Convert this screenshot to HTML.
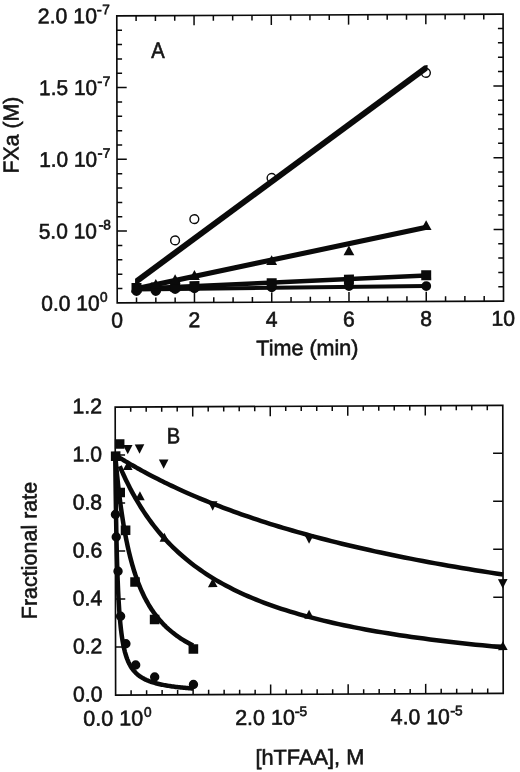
<!DOCTYPE html>
<html><head><meta charset="utf-8"><title>Figure</title>
<style>
html,body{margin:0;padding:0;background:#fff;}
body{width:520px;height:772px;overflow:hidden;font-family:"Liberation Sans",sans-serif;}
svg{display:block;filter:blur(0.55px);}
svg text{font-family:"Liberation Sans",sans-serif;fill:#141414;stroke:#141414;stroke-width:0.6px;}
</style></head>
<body>
<svg width="520" height="772" viewBox="0 0 520 772">
<rect width="520" height="772" fill="#fff"/>
<g transform="matrix(1 -0.0045 0.0015 1 -0.238 1.396)">
<rect x="117.0" y="15.0" width="386.3" height="287.0" fill="none" stroke="#0a0a0a" stroke-width="1.65"/>
<path d="M136.31 302.0v-5.2M136.31 15.0v5.2M155.63 302.0v-5.2M155.63 15.0v5.2M174.94 302.0v-5.2M174.94 15.0v5.2M194.26 302.0v-9.8M194.26 15.0v9.8M213.57 302.0v-5.2M213.57 15.0v5.2M232.89 302.0v-5.2M232.89 15.0v5.2M252.20 302.0v-5.2M252.20 15.0v5.2M271.52 302.0v-9.8M271.52 15.0v9.8M290.84 302.0v-5.2M290.84 15.0v5.2M310.15 302.0v-5.2M310.15 15.0v5.2M329.47 302.0v-5.2M329.47 15.0v5.2M348.78 302.0v-9.8M348.78 15.0v9.8M368.10 302.0v-5.2M368.10 15.0v5.2M387.41 302.0v-5.2M387.41 15.0v5.2M406.73 302.0v-5.2M406.73 15.0v5.2M426.04 302.0v-9.8M426.04 15.0v9.8M445.36 302.0v-5.2M445.36 15.0v5.2M464.67 302.0v-5.2M464.67 15.0v5.2M483.99 302.0v-5.2M483.99 15.0v5.2M117.0 287.65h5.2M503.3 287.65h-5.2M117.0 273.30h5.2M503.3 273.30h-5.2M117.0 258.95h5.2M503.3 258.95h-5.2M117.0 244.60h5.2M503.3 244.60h-5.2M117.0 230.25h9.8M503.3 230.25h-9.8M117.0 215.90h5.2M503.3 215.90h-5.2M117.0 201.55h5.2M503.3 201.55h-5.2M117.0 187.20h5.2M503.3 187.20h-5.2M117.0 172.85h5.2M503.3 172.85h-5.2M117.0 158.50h9.8M503.3 158.50h-9.8M117.0 144.15h5.2M503.3 144.15h-5.2M117.0 129.80h5.2M503.3 129.80h-5.2M117.0 115.45h5.2M503.3 115.45h-5.2M117.0 101.10h5.2M503.3 101.10h-5.2M117.0 86.75h9.8M503.3 86.75h-9.8M117.0 72.40h5.2M503.3 72.40h-5.2M117.0 58.05h5.2M503.3 58.05h-5.2M117.0 43.70h5.2M503.3 43.70h-5.2M117.0 29.35h5.2M503.3 29.35h-5.2" stroke="#0a0a0a" stroke-width="1.5" fill="none"/>
<text x="38.00" y="22.20" font-size="21.5" textLength="59.20" lengthAdjust="spacingAndGlyphs">2.0 10</text>
<text x="96.90" y="13.40" font-size="13.7" textLength="5.11" lengthAdjust="spacingAndGlyphs">-</text>
<text x="110.20" y="13.40" font-size="13.7" text-anchor="end">7</text>
<text x="39.20" y="93.95" font-size="21.5" textLength="58.00" lengthAdjust="spacingAndGlyphs">1.5 10</text>
<text x="97.40" y="85.15" font-size="13.7" textLength="5.11" lengthAdjust="spacingAndGlyphs">-</text>
<text x="110.40" y="85.15" font-size="13.7" text-anchor="end">7</text>
<text x="39.20" y="165.70" font-size="21.5" textLength="58.00" lengthAdjust="spacingAndGlyphs">1.0 10</text>
<text x="97.40" y="156.90" font-size="13.7" textLength="5.11" lengthAdjust="spacingAndGlyphs">-</text>
<text x="110.40" y="156.90" font-size="13.7" text-anchor="end">7</text>
<text x="38.60" y="237.45" font-size="21.5" textLength="58.30" lengthAdjust="spacingAndGlyphs">5.0 10</text>
<text x="98.30" y="228.65" font-size="13.7" textLength="5.11" lengthAdjust="spacingAndGlyphs">-</text>
<text x="110.80" y="228.65" font-size="13.7" text-anchor="end">8</text>
<text x="41.00" y="309.50" font-size="21.5" textLength="58.40" lengthAdjust="spacingAndGlyphs">0.0 10</text>
<text x="99.80" y="300.70" font-size="13.7">0</text>
<text x="110.91" y="326.60" font-size="21.5" textLength="11.77" lengthAdjust="spacingAndGlyphs">0</text>
<text x="188.17" y="326.60" font-size="21.5" textLength="11.77" lengthAdjust="spacingAndGlyphs">2</text>
<text x="265.43" y="326.60" font-size="21.5" textLength="11.77" lengthAdjust="spacingAndGlyphs">4</text>
<text x="342.69" y="326.60" font-size="21.5" textLength="11.77" lengthAdjust="spacingAndGlyphs">6</text>
<text x="419.95" y="326.60" font-size="21.5" textLength="11.77" lengthAdjust="spacingAndGlyphs">8</text>
<text x="491.33" y="326.60" font-size="21.5" textLength="23.55" lengthAdjust="spacingAndGlyphs">10</text>
<text x="256.0" y="355.2" font-size="21.5" textLength="102.2" lengthAdjust="spacingAndGlyphs">Time (min)</text>
<text transform="translate(18.6 172.2) rotate(-90)" font-size="21.5" textLength="76.8" lengthAdjust="spacingAndGlyphs">FXa (M)</text>
<text x="151.30" y="57.40" font-size="22.3" textLength="13.46" lengthAdjust="spacingAndGlyphs">A</text>
<circle cx="174.94" cy="239.80" r="4.4" fill="#fff" stroke="#0a0a0a" stroke-width="1.4"/>
<circle cx="194.26" cy="218.60" r="4.4" fill="#fff" stroke="#0a0a0a" stroke-width="1.4"/>
<circle cx="271.52" cy="177.80" r="4.4" fill="#fff" stroke="#0a0a0a" stroke-width="1.4"/>
<circle cx="426.04" cy="73.40" r="4.4" fill="#fff" stroke="#0a0a0a" stroke-width="1.4"/>
<path d="M134.90 277.84L424.30 66.04L427.70 65.64L427.70 70.86L427.30 71.16L134.90 285.16Z" fill="#0a0a0a"/>
<path d="M136.30 285.30L425.80 225.30L425.80 230.50L136.30 290.50Z" fill="#0a0a0a"/>
<path d="M136.30 285.75L425.80 273.75L425.80 278.25L136.30 290.25Z" fill="#0a0a0a"/>
<path d="M136.30 286.60L425.80 284.50L425.80 288.50L136.30 290.60Z" fill="#0a0a0a"/>
<circle cx="136.31" cy="290.30" r="4.9" fill="#0a0a0a"/>
<circle cx="155.63" cy="290.30" r="4.9" fill="#0a0a0a"/>
<circle cx="174.94" cy="288.40" r="4.9" fill="#0a0a0a"/>
<circle cx="194.26" cy="287.80" r="4.9" fill="#0a0a0a"/>
<circle cx="271.52" cy="287.20" r="4.9" fill="#0a0a0a"/>
<circle cx="348.78" cy="286.30" r="4.9" fill="#0a0a0a"/>
<circle cx="426.04" cy="286.60" r="4.9" fill="#0a0a0a"/>
<rect x="131.31" y="282.30" width="10.0" height="10.0" fill="#0a0a0a"/>
<rect x="150.63" y="281.80" width="10.0" height="10.0" fill="#0a0a0a"/>
<rect x="169.94" y="281.00" width="10.0" height="10.0" fill="#0a0a0a"/>
<rect x="189.26" y="280.60" width="10.0" height="10.0" fill="#0a0a0a"/>
<rect x="266.52" y="278.00" width="10.0" height="10.0" fill="#0a0a0a"/>
<rect x="343.78" y="274.80" width="10.0" height="10.0" fill="#0a0a0a"/>
<rect x="421.04" y="270.70" width="10.0" height="10.0" fill="#0a0a0a"/>
<path d="M136.31 281.20L141.72 291.00L130.91 291.00Z" fill="#0a0a0a"/>
<path d="M155.63 278.30L161.03 288.10L150.23 288.10Z" fill="#0a0a0a"/>
<path d="M174.94 273.70L180.34 283.50L169.54 283.50Z" fill="#0a0a0a"/>
<path d="M194.26 269.60L199.66 279.40L188.86 279.40Z" fill="#0a0a0a"/>
<path d="M271.52 255.10L276.92 264.90L266.12 264.90Z" fill="#0a0a0a"/>
<path d="M348.78 245.70L354.18 255.50L343.38 255.50Z" fill="#0a0a0a"/>
<path d="M426.04 220.70L431.44 230.50L420.64 230.50Z" fill="#0a0a0a"/>
</g>
<g transform="matrix(1 -0.0045 0.0015 1 -0.825 1.391)">
<rect x="115.4" y="406.2" width="387.6" height="288.00000000000006" fill="none" stroke="#0a0a0a" stroke-width="1.65"/>
<path d="M130.90 694.2v-4.8M130.90 406.2v4.8M146.41 694.2v-4.8M146.41 406.2v4.8M161.91 694.2v-4.8M161.91 406.2v4.8M177.42 694.2v-4.8M177.42 406.2v4.8M192.92 694.2v-9.8M192.92 406.2v9.8M208.42 694.2v-4.8M208.42 406.2v4.8M223.93 694.2v-4.8M223.93 406.2v4.8M239.43 694.2v-4.8M239.43 406.2v4.8M254.94 694.2v-4.8M254.94 406.2v4.8M270.44 694.2v-9.8M270.44 406.2v9.8M285.94 694.2v-4.8M285.94 406.2v4.8M301.45 694.2v-4.8M301.45 406.2v4.8M316.95 694.2v-4.8M316.95 406.2v4.8M332.46 694.2v-4.8M332.46 406.2v4.8M347.96 694.2v-9.8M347.96 406.2v9.8M363.46 694.2v-4.8M363.46 406.2v4.8M378.97 694.2v-4.8M378.97 406.2v4.8M394.47 694.2v-4.8M394.47 406.2v4.8M409.98 694.2v-4.8M409.98 406.2v4.8M425.48 694.2v-9.8M425.48 406.2v9.8M440.98 694.2v-4.8M440.98 406.2v4.8M456.49 694.2v-4.8M456.49 406.2v4.8M471.99 694.2v-4.8M471.99 406.2v4.8M487.50 694.2v-4.8M487.50 406.2v4.8M115.4 646.20h9.8M503.0 646.20h-9.8M115.4 598.20h9.8M503.0 598.20h-9.8M115.4 550.20h9.8M503.0 550.20h-9.8M115.4 502.20h9.8M503.0 502.20h-9.8M115.4 454.20h9.8M503.0 454.20h-9.8" stroke="#0a0a0a" stroke-width="1.5" fill="none"/>
<text x="72.76" y="700.50" font-size="21.5" textLength="29.44" lengthAdjust="spacingAndGlyphs">0.0</text>
<text x="72.76" y="652.50" font-size="21.5" textLength="29.44" lengthAdjust="spacingAndGlyphs">0.2</text>
<text x="72.76" y="604.50" font-size="21.5" textLength="29.44" lengthAdjust="spacingAndGlyphs">0.4</text>
<text x="72.76" y="556.50" font-size="21.5" textLength="29.44" lengthAdjust="spacingAndGlyphs">0.6</text>
<text x="72.76" y="508.50" font-size="21.5" textLength="29.44" lengthAdjust="spacingAndGlyphs">0.8</text>
<text x="72.76" y="460.50" font-size="21.5" textLength="29.44" lengthAdjust="spacingAndGlyphs">1.0</text>
<text x="72.76" y="412.50" font-size="21.5" textLength="29.44" lengthAdjust="spacingAndGlyphs">1.2</text>
<text x="83.10" y="724.70" font-size="21.5" textLength="59.80" lengthAdjust="spacingAndGlyphs">0.0 10</text>
<text x="143.80" y="715.90" font-size="13.7">0</text>
<text x="234.90" y="724.70" font-size="21.5" textLength="59.70" lengthAdjust="spacingAndGlyphs">2.0 10</text>
<text x="294.60" y="715.90" font-size="13.7" textLength="5.11" lengthAdjust="spacingAndGlyphs">-</text>
<text x="307.00" y="715.90" font-size="13.7" text-anchor="end">5</text>
<text x="390.60" y="724.70" font-size="21.5" textLength="59.00" lengthAdjust="spacingAndGlyphs">4.0 10</text>
<text x="450.00" y="715.90" font-size="13.7" textLength="5.11" lengthAdjust="spacingAndGlyphs">-</text>
<text x="462.50" y="715.90" font-size="13.7" text-anchor="end">5</text>
<text x="255.1" y="764.5" font-size="21.5" textLength="108.9" lengthAdjust="spacingAndGlyphs">[hTFAA], M</text>
<text transform="translate(36.6 618.0) rotate(-90)" font-size="21.5" textLength="137.5" lengthAdjust="spacingAndGlyphs">Fractional rate</text>
<text x="166.90" y="442.90" font-size="22.3" textLength="13.46" lengthAdjust="spacingAndGlyphs">B</text>
<path d="M115.40 454.20 L115.41 454.21 L115.45 454.23 L115.52 454.27 L115.62 454.34 L115.76 454.42 L115.93 454.54 L116.15 454.67 L116.40 454.83 L116.70 455.02 L117.04 455.23 L117.42 455.47 L117.85 455.74 L118.32 456.03 L118.83 456.35 L119.40 456.70 L120.01 457.07 L120.66 457.48 L121.37 457.91 L122.12 458.37 L122.92 458.86 L123.78 459.38 L124.68 459.92 L125.63 460.50 L126.64 461.10 L127.69 461.72 L128.80 462.38 L129.96 463.06 L131.17 463.77 L132.44 464.50 L133.76 465.27 L135.13 466.05 L136.56 466.86 L138.04 467.70 L139.58 468.56 L141.17 469.45 L142.82 470.36 L144.52 471.29 L146.28 472.25 L148.10 473.22 L149.97 474.22 L151.90 475.24 L153.89 476.28 L155.93 477.34 L158.04 478.42 L160.20 479.52 L162.42 480.63 L164.69 481.77 L167.03 482.92 L169.43 484.09 L171.88 485.27 L174.40 486.47 L176.97 487.68 L179.61 488.90 L182.30 490.14 L185.06 491.39 L187.88 492.66 L190.75 493.93 L193.69 495.21 L196.69 496.51 L199.76 497.81 L202.88 499.13 L206.07 500.45 L209.31 501.78 L212.63 503.11 L216.00 504.45 L219.44 505.80 L222.93 507.15 L226.50 508.51 L230.12 509.87 L233.81 511.24 L237.57 512.60 L241.38 513.98 L245.27 515.35 L249.21 516.72 L253.22 518.10 L257.30 519.47 L261.44 520.85 L265.64 522.22 L269.91 523.60 L274.25 524.97 L278.65 526.34 L283.12 527.71 L287.65 529.08 L292.25 530.44 L296.91 531.80 L301.64 533.16 L306.44 534.51 L311.31 535.86 L316.24 537.21 L321.23 538.55 L326.30 539.88 L331.43 541.21 L336.63 542.53 L341.90 543.85 L347.23 545.16 L352.64 546.47 L358.11 547.77 L363.65 549.06 L369.25 550.34 L374.93 551.62 L380.67 552.89 L386.48 554.15 L392.37 555.40 L398.32 556.65 L404.34 557.89 L410.42 559.12 L416.58 560.34 L422.81 561.55 L429.11 562.76 L435.47 563.95 L441.91 565.14 L448.42 566.32 L454.99 567.49 L461.64 568.65 L468.36 569.80 L475.14 570.94 L482.00 572.07 L488.93 573.19 L495.93 574.31 L503.00 575.41" fill="none" stroke="#0a0a0a" stroke-width="4.5" stroke-linejoin="round"/>
<path d="M119.90 465.40 L119.91 465.42 L119.94 465.51 L120.01 465.67 L120.11 465.91 L120.25 466.23 L120.42 466.64 L120.63 467.14 L120.89 467.73 L121.18 468.41 L121.51 469.18 L121.89 470.04 L122.31 471.00 L122.78 472.04 L123.29 473.18 L123.85 474.41 L124.45 475.72 L125.10 477.12 L125.79 478.60 L126.54 480.16 L127.33 481.79 L128.18 483.50 L129.07 485.28 L130.01 487.13 L131.00 489.05 L132.05 491.02 L133.14 493.05 L134.29 495.13 L135.49 497.26 L136.74 499.44 L138.04 501.66 L139.40 503.91 L140.81 506.20 L142.28 508.52 L143.79 510.87 L145.37 513.24 L147.00 515.62 L148.68 518.03 L150.42 520.44 L152.22 522.87 L154.07 525.30 L155.97 527.73 L157.94 530.16 L159.96 532.59 L162.04 535.02 L164.17 537.43 L166.37 539.84 L168.62 542.24 L170.93 544.62 L173.30 546.98 L175.72 549.33 L178.21 551.66 L180.76 553.97 L183.36 556.25 L186.02 558.52 L188.75 560.75 L191.53 562.96 L194.38 565.15 L197.28 567.31 L200.25 569.44 L203.27 571.54 L206.36 573.61 L209.51 575.65 L212.72 577.66 L215.99 579.65 L219.33 581.60 L222.72 583.52 L226.18 585.41 L229.71 587.26 L233.29 589.09 L236.94 590.89 L240.65 592.65 L244.42 594.39 L248.26 596.09 L252.16 597.76 L256.12 599.41 L260.15 601.02 L264.24 602.61 L268.40 604.16 L272.62 605.69 L276.90 607.18 L281.25 608.65 L285.67 610.09 L290.15 611.51 L294.69 612.89 L299.30 614.25 L303.98 615.59 L308.72 616.89 L313.53 618.17 L318.40 619.43 L323.34 620.66 L328.35 621.87 L333.42 623.05 L338.56 624.22 L343.77 625.35 L349.04 626.47 L354.38 627.56 L359.79 628.63 L365.26 629.68 L370.80 630.71 L376.41 631.72 L382.09 632.71 L387.84 633.68 L393.65 634.63 L399.53 635.56 L405.48 636.48 L411.50 637.37 L417.58 638.25 L423.74 639.11 L429.96 639.95 L436.26 640.78 L442.62 641.59 L449.05 642.39 L455.55 643.17 L462.12 643.93 L468.76 644.68 L475.47 645.42 L482.24 646.14 L489.09 646.84 L496.01 647.54 L503.00 648.22" fill="none" stroke="#0a0a0a" stroke-width="4.5" stroke-linejoin="round"/>
<path d="M115.40 454.20 L115.40 454.22 L115.41 454.31 L115.42 454.48 L115.44 454.72 L115.47 455.05 L115.51 455.47 L115.55 455.98 L115.60 456.58 L115.66 457.28 L115.73 458.07 L115.80 458.95 L115.89 459.93 L115.98 461.00 L116.09 462.17 L116.20 463.42 L116.32 464.77 L116.45 466.20 L116.59 467.72 L116.74 469.31 L116.90 470.99 L117.08 472.75 L117.26 474.58 L117.45 476.48 L117.65 478.44 L117.86 480.47 L118.08 482.56 L118.31 484.70 L118.55 486.90 L118.81 489.14 L119.07 491.43 L119.35 493.75 L119.63 496.11 L119.93 498.51 L120.24 500.93 L120.55 503.38 L120.88 505.84 L121.22 508.33 L121.58 510.83 L121.94 513.34 L122.31 515.86 L122.70 518.38 L123.10 520.90 L123.51 523.42 L123.93 525.94 L124.36 528.45 L124.80 530.95 L125.26 533.44 L125.73 535.92 L126.21 538.38 L126.70 540.83 L127.20 543.25 L127.71 545.66 L128.24 548.04 L128.78 550.40 L129.33 552.74 L129.90 555.05 L130.47 557.33 L131.06 559.59 L131.66 561.82 L132.27 564.02 L132.90 566.19 L133.53 568.33 L134.18 570.43 L134.85 572.51 L135.52 574.56 L136.21 576.57 L136.91 578.56 L137.62 580.51 L138.34 582.43 L139.08 584.32 L139.83 586.17 L140.60 588.00 L141.37 589.79 L142.16 591.55 L142.96 593.28 L143.78 594.98 L144.61 596.65 L145.45 598.29 L146.30 599.90 L147.17 601.48 L148.05 603.03 L148.94 604.55 L149.85 606.05 L150.77 607.51 L151.70 608.95 L152.65 610.36 L153.61 611.74 L154.58 613.09 L155.57 614.42 L156.57 615.73 L157.58 617.00 L158.61 618.26 L159.65 619.49 L160.70 620.69 L161.77 621.87 L162.85 623.03 L163.94 624.17 L165.05 625.28 L166.17 626.38 L167.31 627.45 L168.45 628.50 L169.62 629.52 L170.79 630.53 L171.98 631.52 L173.19 632.49 L174.40 633.44 L175.64 634.38 L176.88 635.29 L178.14 636.19 L179.41 637.07 L180.70 637.93 L182.00 638.77 L183.32 639.60 L184.65 640.42 L185.99 641.21 L187.35 642.00 L188.72 642.76 L190.11 643.52 L191.51 644.26 L192.92 644.98" fill="none" stroke="#0a0a0a" stroke-width="4.5" stroke-linejoin="round"/>
<path d="M115.40 454.20 L115.40 454.44 L115.41 455.31 L115.42 456.88 L115.44 459.20 L115.47 462.26 L115.51 466.05 L115.55 470.51 L115.60 475.58 L115.66 481.19 L115.73 487.26 L115.80 493.70 L115.89 500.43 L115.98 507.36 L116.09 514.41 L116.20 521.52 L116.32 528.60 L116.45 535.62 L116.59 542.51 L116.74 549.25 L116.90 555.80 L117.08 562.13 L117.26 568.24 L117.45 574.10 L117.65 579.71 L117.86 585.07 L118.08 590.19 L118.31 595.05 L118.55 599.67 L118.81 604.06 L119.07 608.21 L119.35 612.15 L119.63 615.88 L119.93 619.41 L120.24 622.75 L120.55 625.91 L120.88 628.89 L121.22 631.72 L121.58 634.39 L121.94 636.92 L122.31 639.32 L122.70 641.58 L123.10 643.73 L123.51 645.76 L123.93 647.69 L124.36 649.51 L124.80 651.24 L125.26 652.89 L125.73 654.45 L126.21 655.93 L126.70 657.34 L127.20 658.68 L127.71 659.95 L128.24 661.16 L128.78 662.32 L129.33 663.42 L129.90 664.46 L130.47 665.46 L131.06 666.42 L131.66 667.33 L132.27 668.20 L132.90 669.03 L133.53 669.82 L134.18 670.58 L134.85 671.31 L135.52 672.01 L136.21 672.67 L136.91 673.31 L137.62 673.93 L138.34 674.52 L139.08 675.08 L139.83 675.62 L140.60 676.14 L141.37 676.64 L142.16 677.12 L142.96 677.59 L143.78 678.03 L144.61 678.46 L145.45 678.87 L146.30 679.27 L147.17 679.65 L148.05 680.02 L148.94 680.38 L149.85 680.72 L150.77 681.05 L151.70 681.37 L152.65 681.68 L153.61 681.98 L154.58 682.27 L155.57 682.55 L156.57 682.82 L157.58 683.08 L158.61 683.33 L159.65 683.57 L160.70 683.81 L161.77 684.04 L162.85 684.26 L163.94 684.48 L165.05 684.68 L166.17 684.89 L167.31 685.08 L168.45 685.27 L169.62 685.46 L170.79 685.64 L171.98 685.81 L173.19 685.98 L174.40 686.14 L175.64 686.30 L176.88 686.46 L178.14 686.61 L179.41 686.75 L180.70 686.90 L182.00 687.03 L183.32 687.17 L184.65 687.30 L185.99 687.43 L187.35 687.55 L188.72 687.67 L190.11 687.79 L191.51 687.90 L192.92 688.02" fill="none" stroke="#0a0a0a" stroke-width="4.5" stroke-linejoin="round"/>
<circle cx="115.50" cy="513.60" r="4.7" fill="#0a0a0a"/>
<circle cx="116.25" cy="536.10" r="4.7" fill="#0a0a0a"/>
<circle cx="118.00" cy="570.40" r="4.7" fill="#0a0a0a"/>
<circle cx="120.50" cy="615.40" r="4.7" fill="#0a0a0a"/>
<circle cx="125.75" cy="642.90" r="4.7" fill="#0a0a0a"/>
<circle cx="135.50" cy="664.20" r="4.7" fill="#0a0a0a"/>
<circle cx="154.50" cy="676.30" r="4.7" fill="#0a0a0a"/>
<circle cx="193.25" cy="684.00" r="4.7" fill="#0a0a0a"/>
<rect x="111.00" y="450.50" width="9.6" height="9.6" fill="#0a0a0a"/>
<rect x="115.00" y="438.40" width="9.6" height="9.6" fill="#0a0a0a"/>
<rect x="115.50" y="486.80" width="9.6" height="9.6" fill="#0a0a0a"/>
<rect x="120.80" y="524.70" width="9.6" height="9.6" fill="#0a0a0a"/>
<rect x="130.20" y="576.40" width="9.6" height="9.6" fill="#0a0a0a"/>
<rect x="149.70" y="614.00" width="9.6" height="9.6" fill="#0a0a0a"/>
<rect x="188.45" y="643.70" width="9.6" height="9.6" fill="#0a0a0a"/>
<path d="M127.90 453.50L132.70 444.10L123.10 444.10Z" fill="#0a0a0a"/>
<path d="M139.70 453.00L144.50 443.60L134.90 443.60Z" fill="#0a0a0a"/>
<path d="M163.80 468.20L168.60 458.80L159.00 458.80Z" fill="#0a0a0a"/>
<path d="M212.75 510.20L217.55 500.80L207.95 500.80Z" fill="#0a0a0a"/>
<path d="M309.10 543.80L313.90 534.40L304.30 534.40Z" fill="#0a0a0a"/>
<path d="M502.70 589.40L507.50 580.00L497.90 580.00Z" fill="#0a0a0a"/>
<path d="M127.90 460.10L132.70 469.10L123.10 469.10Z" fill="#0a0a0a"/>
<path d="M140.00 490.40L144.80 499.40L135.20 499.40Z" fill="#0a0a0a"/>
<path d="M164.40 532.00L169.20 541.00L159.60 541.00Z" fill="#0a0a0a"/>
<path d="M212.70 577.70L217.50 586.70L207.90 586.70Z" fill="#0a0a0a"/>
<path d="M309.00 609.80L313.80 618.80L304.20 618.80Z" fill="#0a0a0a"/>
<path d="M502.70 642.00L507.50 651.00L497.90 651.00Z" fill="#0a0a0a"/>
</g>
</svg>
</body></html>
